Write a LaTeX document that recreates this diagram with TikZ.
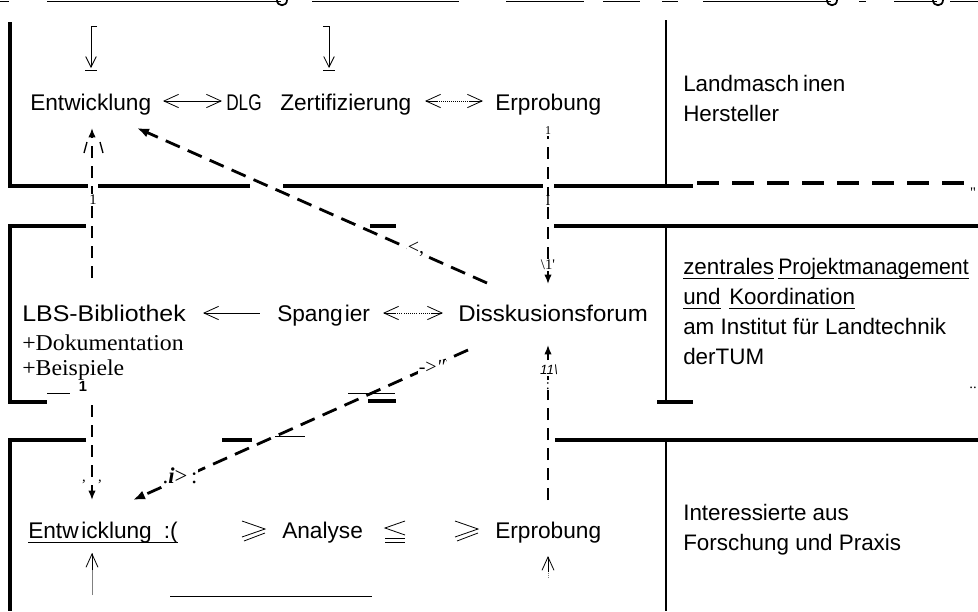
\documentclass[tikz,border=0pt]{standalone}
\usepackage{fontspec}
\usepackage{graphicx}
\setmainfont{Liberation Sans}
\newfontfamily\serif{Liberation Serif}
\usetikzlibrary{arrows.meta}
\begin{document}
\begin{tikzpicture}[x=0.75pt,y=-0.75pt,
  lbl/.style={anchor=base west,inner sep=0pt,font=\fontsize{17}{20}\selectfont},
  rlbl/.style={anchor=base west,inner sep=0pt,font=\fontsize{16.8}{20}\selectfont},
  slbl/.style={anchor=base west,inner sep=0pt,font=\serif\fontsize{17}{20}\selectfont},
  junk/.style={inner sep=0.5pt,font=\serif\fontsize{11}{12}\selectfont},
  band/.style={line width=2.8pt},
  thinv/.style={line width=0.9pt},
  uline/.style={line width=0.7pt},
  dline/.style={line width=2.1pt,dash pattern=on 11.5pt off 6.5pt},
  vline/.style={line width=1.1pt,dash pattern=on 9pt off 6pt},
  ftip/.style={-{Latex[length=7pt,width=5.5pt]}},
  oboth/.style={line width=0.6pt,{Straight Barb[length=11pt,width=10pt]}-{Straight Barb[length=11pt,width=10pt]}},
  oleft/.style={line width=0.6pt,{Straight Barb[length=11pt,width=10pt]}-},
  small/.style={line width=0.6pt,-{Straight Barb[length=8pt,width=8pt]}},
  gtail/.style={line width=1.3pt}
]
\useasboundingbox (0,0) rectangle (978,611);

% clipped underlines at the very top
\foreach \a/\b in {0/9,47/281,312/459,506/584,603/640,662/678,703/831,859/866,894/937,950/978}
  \draw[line width=1.2pt] (\a,1.5) -- (\b,1.5);
\foreach \g in {281,831,937}
  \draw[gtail] (\g-4,0) .. controls (\g-4,7) and (\g+6,7) .. (\g+6,0);

% ---------- top band ----------
\draw[band] (10,22) -- (10,186) -- (88,186);
\draw[band] (98,186) -- (250,186);
\draw[band] (283,186) -- (543,186);
\draw[band] (554,186) -- (693,186);
\draw[line width=3pt,dash pattern=on 16.5pt off 9.75pt] (697,183) -- (968,183);
\node[junk] (q1) at (973,193) {''};
\draw[thinv] (666,20) -- (666,186);

% ---------- middle band ----------
\draw[band] (86,226) -- (10,226) -- (10,402) -- (47,402);
\draw[thin] (47,393) -- (70,393);
\draw[band] (370,226) -- (396,226);
\draw[band] (554,226) -- (978,226);
\draw[thin] (348,393) -- (395,393);
\draw[band] (368,401) -- (396,401);
\draw[thinv] (666,226) -- (666,402);
\draw[band] (657,402) -- (693,402);
\node[junk] (q2) at (973,388) {..};
\node[inner sep=0pt,font=\bfseries\fontsize{11}{12}\selectfont] (one) at (83,386) {1};

% ---------- bottom band ----------
\draw[band] (86,440) -- (10,440) -- (10,611);
\draw[band] (222,440) -- (252,440);
\draw[thin] (275,436) -- (305,436);
\draw[band] (555,440) -- (978,440);
\draw[thinv] (666,440) -- (666,611);
\draw[thin] (170,596) -- (372,596);

% ---------- top row ----------
\node[lbl] (e1) at (30,110) {Entwicklung};
\node[lbl] (dlg) at (226,110) {\scalebox{0.76}[1]{DLG}};
\node[lbl] (zert) at (280,110) {Zertifizierung};
\node[lbl] (erp1) at (495,110) {Erprobung};
\coordinate (a1) at (163,101); \coordinate (a2) at (222,101);
\coordinate (a3) at (425,101); \coordinate (a4) at (483,101);
\draw[oboth] (a1) -- (a2);
\draw[oboth] (a3) -- (a4);
\draw[densely dotted,white,line width=0.5pt] (438,101) -- (470,101);

% small arrows from above
\coordinate (s1a) at (97,26); \coordinate (s1b) at (91,68);
\coordinate (s2a) at (323,26); \coordinate (s2b) at (329,68);
\draw[small] (s1a) -| (s1b);
\draw[line width=0.6pt] (85,70) -- (97,70);
\draw[small] (s2a) -| (s2b);
\draw[line width=0.6pt] (323,70) -- (335,70);

% right labels
\node[rlbl] (lm) at (683,91) {Landmasch\hspace{3pt}inen};
\node[rlbl] (hs) at (683,121) {Hersteller};

% ---------- middle row ----------
\node[lbl] (lbs) at (22,321) {\scalebox{1.1}[1]{LBS-Bibliothek}};
\node[lbl] (spa) at (277,321) {Spang\hspace{1.5pt}ier};
\node[lbl] (dis) at (458,321) {\scalebox{1.06}[1]{Disskusionsforum}};
\node[slbl] (dok) at (22,350) {\scalebox{1.05}[1]{+Dokumentation}};
\node[slbl] (bei) at (22,375) {\scalebox{1.05}[1]{+Beispiele}};
\coordinate (b1) at (203,313); \coordinate (b2) at (260,313);
\coordinate (b3) at (383,313); \coordinate (b4) at (443,313);
\draw[oleft] (b1) -- (b2);
\draw[oboth] (b3) -- (b4);
\draw[densely dotted,white,line width=0.4pt] (396,313) -- (430,313);

\node[rlbl] (z1) at (683,274) {zentrales};
\node[rlbl] (z2) at (778,274) {\scalebox{0.95}[1]{Projektmanagement}};
\node[rlbl] (z3) at (683,304) {und};
\node[rlbl] (z4) at (729,304) {Koordination};
\node[rlbl] (z5) at (683,334) {am Institut für Landtechnik};
\node[rlbl] (z6) at (683,364) {derTUM};
\foreach \n in {z1,z2,z3,z4}
  \draw[uline] ([yshift=-3pt]\n.base west) -- ([yshift=-3pt]\n.base east);

% ---------- bottom row ----------
\node[lbl] (e2) at (28,538) {Entw\hspace{2pt}icklung\hspace{9pt}:(};
\draw[uline] ([yshift=-3pt]e2.base west) -- ([yshift=-3pt]e2.base east);
\node[lbl] (ana) at (282,538) {Analyse};
\node[lbl] (erp2) at (495,538) {Erprobung};
\draw[line width=0.6pt] (242,521) -- (265,529) -- (242,537);
\draw[line width=0.6pt] (244,541) -- (265,533);
\draw[line width=0.6pt] (405,521) -- (385,528) -- (405,535);
\draw[line width=0.6pt] (385,538) -- (405,538);
\draw[line width=0.6pt] (385,542) -- (405,542);
\draw[line width=0.6pt] (455,521) -- (478,529) -- (455,537);
\draw[line width=0.6pt] (457,541) -- (478,533);
\node[rlbl] (ia) at (683,520) {Interessierte aus};
\node[rlbl] (fp) at (683,550) {Forschung und Praxis};

% small open arrows from below
\coordinate (u1a) at (92,595); \coordinate (u1b) at (92,553);
\coordinate (u2a) at (548,578); \coordinate (u2b) at (548,556);
\draw[line width=0.5pt,gray] (u1a) -- (u1b);
\draw[line width=0.6pt,-{Straight Barb[length=10pt,width=9pt]}] (92,570) -- (u1b);
\draw[line width=0.5pt,densely dotted,gray] (u2a) -- (u2b);
\draw[line width=0.6pt,-{Straight Barb[length=10pt,width=9pt]}] (548,572) -- (u2b);

% ---------- dashed connectors ----------
\coordinate (lbsT) at (92,278); \coordinate (e1B) at (92,128);
\draw[vline,ftip] (lbsT) -- (e1B);
\draw[line width=1pt] (84,153) -- (87,142);
\draw[line width=1pt] (100,142) -- (103,153);
\node[junk,fill=white] (j1) at (93,200) {1};

\coordinate (disA) at (487,283); \coordinate (e1C) at (137,128);
\draw[dline,-{Latex[length=9pt,width=7pt]}] (disA) -- (e1C);
\node[junk,fill=white,font=\serif\fontsize{15}{16}\selectfont] (j2) at (416,249) {<,};

\coordinate (erpB) at (548,127); \coordinate (disT) at (548,284);
\draw[vline,ftip] (erpB) -- (disT);
\node[junk,fill=white,font=\serif\fontsize{9}{10}\selectfont] (j0) at (548,131) {1};
\node[junk,fill=white] (j3) at (548,201) {I};
\node[junk,fill=white] (j4) at (548,265) {\textbackslash 1'};

\coordinate (disB) at (468,350); \coordinate (e2C) at (133,500);
\draw[dline,-{Latex[length=9pt,width=7pt]}] (disB) -- (e2C);
\node[junk,fill=white,font=\serif\fontsize{15}{16}\selectfont] (j5) at (432,367) {-{}>\textit{\textquotedbl}};
\node[junk,fill=white,font=\serif\fontsize{17}{18}\selectfont] (j6) at (180,476) {.\textit{\textbf{i}}>\,:};

\coordinate (lbsB) at (92,405); \coordinate (e2T) at (92,500);
\draw[vline,ftip] (lbsB) -- (e2T);
\node[junk] (j7) at (84,482) {,};
\node[junk] (j8) at (100,482) {,};

\coordinate (erp2T) at (548,500); \coordinate (disU) at (548,345);
\draw[vline,ftip] (erp2T) -- (disU);
\node[junk,fill=white,font=\itshape\fontsize{10}{11}\selectfont] (j9) at (549,370) {11\textbackslash};
\node[junk,fill=white] (j10) at (548,386) {:};
\end{tikzpicture}
\end{document}
